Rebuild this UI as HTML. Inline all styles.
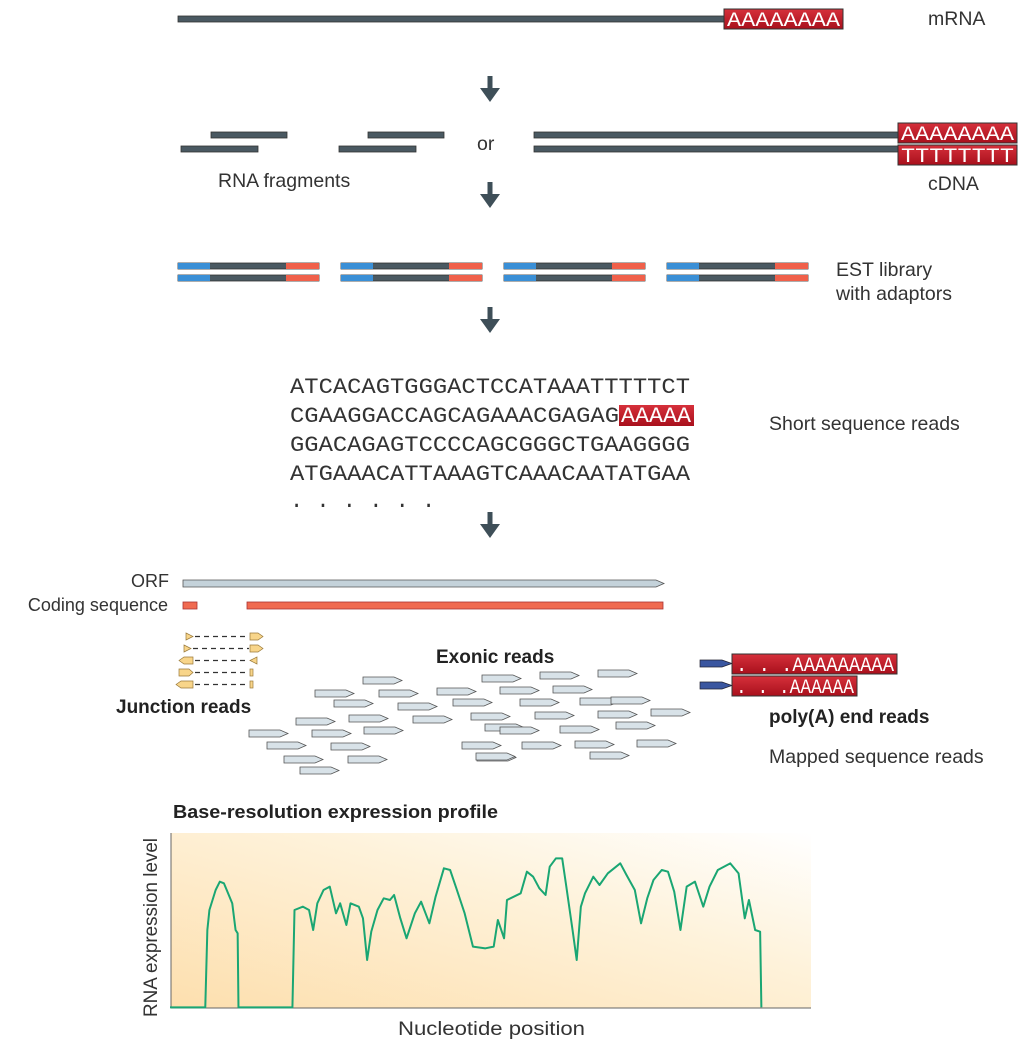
<!DOCTYPE html>
<html><head><meta charset="utf-8"><style>
body{margin:0;background:#fff;}
svg{display:block;font-family:"Liberation Sans",sans-serif;}
</style></head><body>
<svg width="1020" height="1050" viewBox="0 0 1020 1050" xmlns="http://www.w3.org/2000/svg">
<defs>
<linearGradient id="bg" x1="0" y1="1" x2="1" y2="0">
<stop offset="0" stop-color="#fddfae"/><stop offset="0.6" stop-color="#fef2da"/><stop offset="1" stop-color="#ffffff"/>
</linearGradient>
<linearGradient id="red" x1="0" y1="0" x2="0" y2="1"><stop offset="0" stop-color="#d6303b"/><stop offset="1" stop-color="#a8101c"/></linearGradient>
<g id="ar"><path d="M0,0 H31 L39,3.5 L31,7 H0 Z" fill="#d8e2e8" stroke="#555" stroke-width="0.8"/></g>
<g id="lib">
<rect x="0" y="0" width="141" height="6" fill="#4a5962" stroke="#333" stroke-width="0.8"/>
<rect x="0" y="0" width="32" height="6" fill="#3a8fd6"/><rect x="108" y="0" width="33" height="6" fill="#f0604a"/>
<rect x="0" y="12" width="141" height="6" fill="#4a5962" stroke="#333" stroke-width="0.8"/>
<rect x="0" y="12" width="32" height="6" fill="#3a8fd6"/><rect x="108" y="12" width="33" height="6" fill="#f0604a"/>
</g>
<g id="arrow"><rect x="-2.5" y="0" width="5" height="18" fill="#3e4f58"/><path d="M-10,12 L10,12 L0,26 Z" fill="#3e4f58"/></g>
</defs>

<!-- mRNA -->
<rect x="178" y="16" width="546" height="6" fill="#4a5962" stroke="#333" stroke-width="0.8"/>
<rect x="724" y="9" width="119" height="20" fill="url(#red)" stroke="#333"/>
<text x="727" y="26" font-family="Liberation Mono,monospace" font-size="20" fill="#fff" textLength="113" lengthAdjust="spacingAndGlyphs">AAAAAAAA</text>
<text x="928" y="25" font-size="19.5" fill="#333">mRNA</text>
<use href="#arrow" x="490" y="76"/>

<!-- fragments -->
<g fill="#4a5962" stroke="#333" stroke-width="0.8">
<rect x="211" y="132" width="76" height="6"/><rect x="181" y="146" width="77" height="6"/>
<rect x="368" y="132" width="76" height="6"/><rect x="339" y="146" width="77" height="6"/>
<rect x="534" y="132" width="364" height="6"/><rect x="534" y="146" width="364" height="6"/>
</g>
<text x="477" y="150" font-size="19.5" fill="#333">or</text>
<text x="218" y="187" font-size="19.5" fill="#333">RNA fragments</text>
<rect x="898" y="123" width="119" height="20" fill="url(#red)" stroke="#333"/>
<text x="901" y="140" font-family="Liberation Mono,monospace" font-size="20" fill="#fff" textLength="113" lengthAdjust="spacingAndGlyphs">AAAAAAAA</text>
<rect x="898" y="145" width="119" height="20" fill="url(#red)" stroke="#333"/>
<text x="901" y="162" font-family="Liberation Mono,monospace" font-size="20" fill="#fff" textLength="113" lengthAdjust="spacingAndGlyphs">TTTTTTTT</text>
<text x="928" y="190" font-size="19.5" fill="#333">cDNA</text>
<use href="#arrow" x="490" y="182"/>

<!-- EST library -->
<use href="#lib" x="178" y="263"/><use href="#lib" x="341" y="263"/>
<use href="#lib" x="504" y="263"/><use href="#lib" x="667" y="263"/>
<text x="836" y="276" font-size="19.5" fill="#333">EST library</text>
<text x="836" y="300" font-size="19.5" fill="#333">with adaptors</text>
<use href="#arrow" x="490" y="307"/>

<!-- sequences -->
<g font-family="Liberation Mono,monospace" font-size="22" fill="#333">
<text x="290" y="393" textLength="400" lengthAdjust="spacingAndGlyphs">ATCACAGTGGGACTCCATAAATTTTTCT</text>
<rect x="619" y="405" width="75" height="21" fill="url(#red)"/>
<text x="290" y="422" textLength="329" lengthAdjust="spacingAndGlyphs">CGAAGGACCAGCAGAAACGAGAG</text>
<text x="621" y="422" fill="#fff" textLength="70" lengthAdjust="spacingAndGlyphs">AAAAA</text>
<text x="290" y="451" textLength="400" lengthAdjust="spacingAndGlyphs">GGACAGAGTCCCCAGCGGGCTGAAGGGG</text>
<text x="290" y="480" textLength="400" lengthAdjust="spacingAndGlyphs">ATGAAACATTAAAGTCAAACAATATGAA</text>
<text x="290" y="507">. . . . . .</text>
</g>
<text x="769" y="430" font-size="19.5" fill="#333">Short sequence reads</text>
<use href="#arrow" x="490" y="512"/>

<!-- ORF -->
<text x="169" y="587" font-size="18" fill="#333" text-anchor="end">ORF</text>
<path d="M183,580 H656 L664,583.5 L656,587 H183 Z" fill="#c4d2da" stroke="#555" stroke-width="0.8"/>
<text x="168" y="611" font-size="18" fill="#333" text-anchor="end">Coding sequence</text>
<rect x="183" y="602" width="14" height="7" fill="#f06a50" stroke="#a33" stroke-width="0.8"/>
<rect x="247" y="602" width="416" height="7" fill="#f06a50" stroke="#a33" stroke-width="0.8"/>

<!-- junction reads -->
<g fill="#f8d58a" stroke="#9a7a3a" stroke-width="0.7">
<path d="M186,633 L193,636.5 L186,640 Z"/><path d="M250,633 H258 L263,636.5 L258,640 H250 Z"/>
<path d="M184,645 L191,648.5 L184,652 Z"/><path d="M250,645 H258 L263,648.5 L258,652 H250 Z"/>
<path d="M179,660.5 L184,657 H193 V664 H184 Z"/><path d="M250,660.5 L257,657 V664 Z"/>
<path d="M179,669 H189 L193,672.5 L189,676 H179 Z"/><rect x="250" y="669" width="3" height="7"/>
<path d="M176,684.5 L181,681 H193 V688 H181 Z"/><rect x="250" y="681" width="3" height="7"/>
</g>
<g stroke="#333" stroke-width="1.2" stroke-dasharray="5,4">
<line x1="195" y1="636.5" x2="249" y2="636.5"/><line x1="193" y1="648.5" x2="249" y2="648.5"/>
<line x1="195" y1="660.5" x2="249" y2="660.5"/><line x1="195" y1="672.5" x2="249" y2="672.5"/>
<line x1="195" y1="684.5" x2="249" y2="684.5"/>
</g>
<text x="116" y="713" font-size="19" font-weight="bold" fill="#222">Junction reads</text>
<text x="436" y="663" font-size="19" font-weight="bold" fill="#222">Exonic reads</text>

<!-- exonic reads -->
<use href="#ar" x="363" y="677"/><use href="#ar" x="315" y="690"/><use href="#ar" x="379" y="690"/>
<use href="#ar" x="437" y="688"/><use href="#ar" x="482" y="675"/><use href="#ar" x="500" y="687"/>
<use href="#ar" x="334" y="700"/><use href="#ar" x="398" y="703"/><use href="#ar" x="453" y="699"/>
<use href="#ar" x="296" y="718"/><use href="#ar" x="349" y="715"/><use href="#ar" x="413" y="716"/>
<use href="#ar" x="471" y="713"/><use href="#ar" x="249" y="730"/><use href="#ar" x="312" y="730"/>
<use href="#ar" x="364" y="727"/><use href="#ar" x="485" y="724"/><use href="#ar" x="267" y="742"/>
<use href="#ar" x="331" y="743"/><use href="#ar" x="462" y="742"/><use href="#ar" x="284" y="756"/>
<use href="#ar" x="348" y="756"/><use href="#ar" x="477" y="754"/><use href="#ar" x="300" y="767"/>
<use href="#ar" x="540" y="672"/><use href="#ar" x="598" y="670"/><use href="#ar" x="553" y="686"/>
<use href="#ar" x="520" y="699"/><use href="#ar" x="580" y="698"/><use href="#ar" x="611" y="697"/>
<use href="#ar" x="535" y="712"/><use href="#ar" x="598" y="711"/><use href="#ar" x="651" y="709"/>
<use href="#ar" x="500" y="727"/><use href="#ar" x="560" y="726"/><use href="#ar" x="616" y="722"/>
<use href="#ar" x="522" y="742"/><use href="#ar" x="575" y="741"/><use href="#ar" x="637" y="740"/>
<use href="#ar" x="476" y="753"/><use href="#ar" x="590" y="752"/>

<!-- poly(A) -->
<path d="M700,660 H722 L732,663.5 L722,667 H700 Z" fill="#3a56a0" stroke="#223" stroke-width="0.7"/>
<rect x="732" y="654" width="165" height="20" fill="url(#red)" stroke="#333"/>
<text x="736" y="671" font-family="Liberation Mono,monospace" font-size="20" fill="#fff" textLength="158" lengthAdjust="spacingAndGlyphs">. . .AAAAAAAAA</text>
<path d="M700,682 H722 L732,685.5 L722,689 H700 Z" fill="#3a56a0" stroke="#223" stroke-width="0.7"/>
<rect x="732" y="676" width="125" height="20" fill="url(#red)" stroke="#333"/>
<text x="736" y="693" font-family="Liberation Mono,monospace" font-size="20" fill="#fff" textLength="118" lengthAdjust="spacingAndGlyphs">. . .AAAAAA</text>
<text x="769" y="723" font-size="19" font-weight="bold" fill="#222">poly(A) end reads</text>
<text x="769" y="763" font-size="19.5" fill="#333">Mapped sequence reads</text>

<!-- profile -->
<text x="173" y="818" font-size="18.5" font-weight="bold" fill="#222" textLength="325" lengthAdjust="spacingAndGlyphs">Base-resolution expression profile</text>
<rect x="171" y="833" width="640" height="175" fill="url(#bg)"/>
<line x1="171" y1="833" x2="171" y2="1008" stroke="#666" stroke-width="1"/>
<line x1="171" y1="1008" x2="811" y2="1008" stroke="#666" stroke-width="1"/>
<g transform="translate(170,830) scale(0.415,0.3333)">
<polyline fill="none" stroke="#1aa673" stroke-width="2" vector-effect="non-scaling-stroke" stroke-linejoin="round"
points="0,532 85,532 90,300 95,240 110,180 120,155 130,160 150,220 158,300 163,310 165,532 295,532 300,240 320,230 335,240 345,300 355,220 370,180 385,170 400,250 410,220 425,285 435,220 455,230 465,265 475,390 485,305 500,240 515,205 530,210 540,195 555,265 570,325 590,250 605,215 625,280 640,200 660,115 675,120 690,175 710,250 730,350 760,355 780,350 790,270 805,325 812,210 845,190 860,125 875,140 890,175 905,195 915,110 930,85 945,85 955,170 970,300 980,390 990,230 1000,190 1020,140 1035,165 1055,130 1085,100 1100,135 1120,180 1135,280 1150,205 1165,150 1185,120 1200,125 1215,185 1230,300 1245,170 1265,155 1285,230 1300,170 1320,120 1350,100 1370,130 1385,265 1395,210 1410,300 1422,305 1425,532"/>
</g>
<text transform="translate(157,1017) rotate(-90)" font-size="19" fill="#333" textLength="179" lengthAdjust="spacingAndGlyphs">RNA expression level</text>
<text x="398" y="1035" font-size="19.5" fill="#333" textLength="187" lengthAdjust="spacingAndGlyphs">Nucleotide position</text>
</svg>
</body></html>
